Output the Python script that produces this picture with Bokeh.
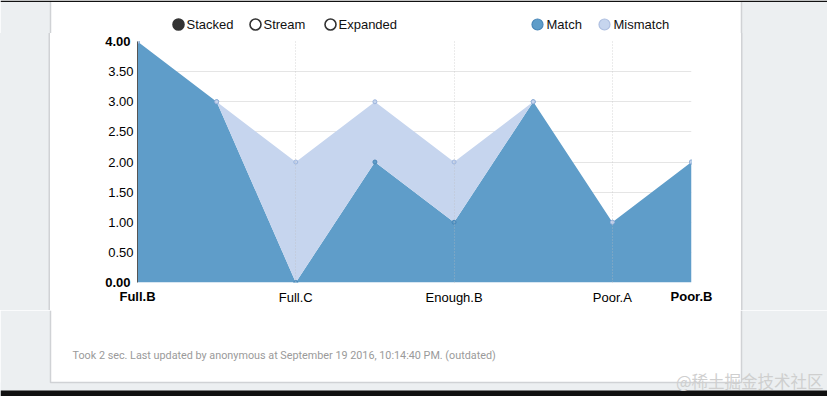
from bokeh.plotting import figure
from bokeh.layouts import column, row
from bokeh.models import (Range1d, FixedTicker, LinearAxis, NumeralTickFormatter, ColumnDataSource, Div)
from bokeh.core.properties import value
from bokeh.embed import file_html
from bokeh.resources import INLINE

# ---- data ----
categories = ["Full.B", "Full.A", "Full.C", "Enough.A", "Enough.B", "Enough.C", "Poor.A", "Poor.B"]
match = [4, 3, 0, 2, 1, 3, 1, 2]
mismatch = [0, 0, 2, 1, 1, 0, 0, 0]
y_ticks = [0.0, 0.5, 1.0, 1.5, 2.0, 2.5, 3.0, 3.5, 4.0]
x_tick_idx = [2, 4, 6]
modes = ["Stacked", "Stream", "Expanded"]
series_names = ["Match", "Mismatch"]
footer_text = "Took 2 sec. Last updated by anonymous at September 19 2016, 10:14:40 PM. (outdated)"
watermark_text = "@稀土掘金技术社区"

# ---- styles / layout constants ----
FONT = "Liberation Sans"
C_MATCH = "#5f9dc9"
C_MISMATCH = "#c6d5ee"
GRAY = "#eceff1"
EDGE = "#d0d2d5"
W = 827
LEFT_GRAY = 50
RIGHT_GRAY = 86
CARD_W = W - LEFT_GRAY - RIGHT_GRAY
HEAD_H = 33
MAIN_H = 277
FOOT_H = 86

xs = list(range(len(categories)))
top = [m + mm for m, mm in zip(match, mismatch)]
src = ColumnDataSource(dict(x=xs, zero=[0] * len(xs), match=match, top=top))


def deco_fig(w, h, fill="white"):
    f = figure(width=w, height=h, output_backend="svg", toolbar_location=None,
               x_range=Range1d(0, w), y_range=Range1d(h, 0),
               min_border=0, min_border_left=0, min_border_right=0, min_border_top=0, min_border_bottom=0,
               border_fill_color=fill, background_fill_color=fill, outline_line_color=None)
    f.axis.visible = False
    f.grid.visible = False
    return f


# ---------------- header (legend row) ----------------
head = deco_fig(W, HEAD_H)
head.quad(left=[0, W - RIGHT_GRAY, 0], right=[LEFT_GRAY, W, W], top=[0, 0, 0], bottom=[HEAD_H, HEAD_H, 1.5],
          fill_color=[GRAY, GRAY, "#111111"], line_color=None)
head.segment(x0=[LEFT_GRAY, W - RIGHT_GRAY], x1=[LEFT_GRAY, W - RIGHT_GRAY], y0=[1.5, 1.5], y1=[HEAD_H, HEAD_H],
             line_color=EDGE, line_width=1.5)
leg_y = 24
mode_cx = [178, 255, 330]
ser_cx = [537, 604]
head.scatter(x=mode_cx, y=[leg_y] * 3, marker="circle", size=11,
             fill_color=["#333333", "white", "white"], line_color="#333333", line_width=1.6)
head.scatter(x=ser_cx, y=[leg_y] * 2, marker="circle", size=11,
             fill_color=[C_MATCH, C_MISMATCH], line_color=["#4a87b8", "#aebfe0"], line_width=1.2)
head.text(x=[c + 8 for c in mode_cx] + [c + 9 for c in ser_cx], y=[leg_y] * 5, text=modes + series_names,
          text_font=value(FONT), text_font_size="13px", text_color="#111111",
          text_align="left", text_baseline="middle")

# ---------------- main chart ----------------
p = figure(width=CARD_W, height=MAIN_H, output_backend="svg", toolbar_location=None,
           x_range=Range1d(0, len(xs) - 1), y_range=Range1d(y_ticks[0], y_ticks[-1]),
           min_border_left=87, min_border_right=50, min_border_top=8, min_border_bottom=28,
           border_fill_color="white", background_fill_color="white", outline_line_color=None)

p.ygrid.ticker = FixedTicker(ticks=y_ticks)
p.ygrid.grid_line_color = "#e5e5e5"
p.xgrid.ticker = FixedTicker(ticks=x_tick_idx)
p.xgrid.grid_line_color = "#bbbbbb"
p.xgrid.grid_line_alpha = 0.6
p.xgrid.grid_line_dash = "1 2"
p.xgrid.level = "annotation"

p.varea(x="x", y1="zero", y2="match", source=src, fill_color=C_MATCH)
p.varea(x="x", y1="match", y2="top", source=src, fill_color=C_MISMATCH)

p.scatter(x="x", y="match", source=src, marker="circle", size=4,
          fill_color=C_MATCH, line_color="#4a87b8", line_width=1)
p.scatter(x="x", y="top", source=src, marker="circle", size=4,
          fill_color=C_MISMATCH, line_color="#9fb6de", line_width=1)

# regular labels (inner axes)
p.yaxis.ticker = FixedTicker(ticks=y_ticks[1:-1])
p.yaxis.formatter = NumeralTickFormatter(format="0.00")
p.xaxis.ticker = FixedTicker(ticks=x_tick_idx)
p.xaxis.major_label_overrides = {i: categories[i] for i in x_tick_idx}

# bold min/max labels (outer axes, pulled back onto the inner ones)
yb = LinearAxis(ticker=FixedTicker(ticks=[y_ticks[0], y_ticks[-1]]), formatter=NumeralTickFormatter(format="0.00"))
xb = LinearAxis(ticker=FixedTicker(ticks=[xs[0], xs[-1]]),
                major_label_overrides={xs[0]: categories[xs[0]], xs[-1]: categories[xs[-1]]})
p.add_layout(yb, "left")
p.add_layout(xb, "below")

for ax in (p.xaxis[0], p.yaxis[0], xb, yb):
    ax.major_tick_line_color = None
    ax.minor_tick_line_color = None
    ax.major_tick_out = 0
    ax.major_tick_in = 0
    ax.axis_line_color = None
    ax.major_label_text_font = FONT
    ax.major_label_text_font_size = "13px"
    ax.major_label_text_color = "#000000"
p.yaxis[0].axis_line_color = "#555555"
p.yaxis[0].major_label_standoff = 4
p.xaxis[0].major_label_standoff = 7
yb.major_label_text_font_style = "bold"
xb.major_label_text_font_style = "bold"
yb.major_label_standoff = -25
xb.major_label_standoff = -19

# gray side strips next to the chart
side_l = Div(text="", width=LEFT_GRAY, height=MAIN_H, margin=0,
             styles={"background-color": GRAY, "box-shadow": f"inset -1.5px 0 0 {EDGE}"})
side_r = Div(text="", width=RIGHT_GRAY, height=MAIN_H, margin=0,
             styles={"background-color": GRAY, "box-shadow": f"inset 1.5px 0 0 {EDGE}"})

main_row = row(side_l, p, side_r)

# ---------------- footer ----------------
foot = deco_fig(W, FOOT_H)
card_bottom = 72
foot.quad(left=[0, W - RIGHT_GRAY, 0, 0], right=[LEFT_GRAY, W, W, W], top=[0, 0, card_bottom, FOOT_H - 6],
          bottom=[FOOT_H, FOOT_H, FOOT_H, FOOT_H], fill_color=[GRAY, GRAY, GRAY, "#111111"], line_color=None)
foot.line(x=[LEFT_GRAY, LEFT_GRAY, W - RIGHT_GRAY, W - RIGHT_GRAY], y=[0, card_bottom, card_bottom, 0],
          line_color=EDGE, line_width=1.5)
foot.text(x=[72], y=[45], text=[footer_text], text_font=value("Roboto"),
          text_font_size="10.8px", text_color="#9a9a9a", text_align="left", text_baseline="middle")
foot.text(x=[823], y=[70], text=[watermark_text], text_font=value("Noto Sans CJK SC"),
          text_font_size="16.5px", text_color="#cfcfcf", text_align="right", text_baseline="middle")

layout = column(head, main_row, foot)

open("out.html", "w").write(file_html(layout, INLINE))
